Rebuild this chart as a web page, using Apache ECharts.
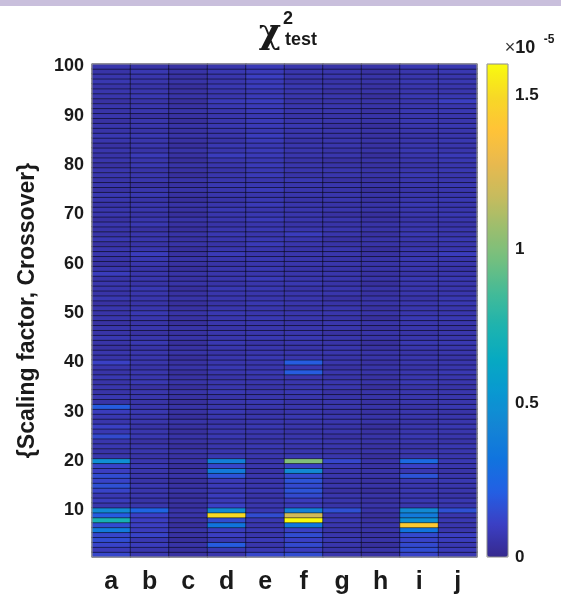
<!DOCTYPE html>
<html>
<head>
<meta charset="utf-8">
<title>chi2 test heatmap</title>
<script src="https://cdn.jsdelivr.net/npm/echarts@6/dist/echarts.min.js"></script>
<style>
  html, body { margin: 0; padding: 0; background: #fff; }
  #chart { width: 561px; height: 595px; }
</style>
</head>
<body>
<div id="chart"></div>
<script>
// columns (x categories)
const columns = ["a", "b", "c", "d", "e", "f", "g", "h", "i", "j"];
// y tick labels shown on the left
const yTickLabels = ["10", "20", "30", "40", "50", "60", "70", "80", "90", "100"];
// colorbar ticks (x 10^-5)
const colorTicks = [0, 0.5, 1, 1.5];
const colorMax = 1.6;

// values per column, row 1 .. row 100, in units of 10^-5
const colA = [
  .13, .08, .12, .15, .13, .36, .15, .72, .20, .45,
  .06, .09, .07, .12, .16, .12, .15, .10, .12, .48,
  .06, .05, .07, .06, .14, .07, .11, .06, .07, .09,
  .20, .05, .07, .05, .06, .05, .07, .05, .06, .11,
  .05, .06, .04, .05, .07, .05, .06, .04, .06, .05,
  .06, .04, .07, .05, .06, .06, .05, .09, .06, .04,
  .05, .06, .06, .04, .07, .05, .05, .06, .04, .06,
  .06, .05, .06, .07, .04, .06, .05, .06, .06, .04,
  .06, .05, .06, .04, .06, .07, .05, .06, .04, .06,
  .05, .06, .04, .06, .06, .05, .07, .06, .05, .06
];
const colB = [
  .07, .06, .09, .07, .12, .09, .10, .10, .11, .24,
  .06, .05, .06, .06, .07, .05, .06, .06, .07, .06,
  .05, .06, .06, .04, .07, .06, .05, .06, .06, .07,
  .06, .05, .06, .06, .04, .07, .06, .06, .05, .06,
  .06, .06, .05, .07, .06, .04, .06, .05, .06, .07,
  .06, .05, .06, .06, .07, .05, .06, .06, .05, .06,
  .07, .09, .06, .05, .06, .06, .04, .07, .06, .05,
  .06, .06, .05, .07, .06, .04, .06, .06, .05, .07,
  .06, .08, .05, .06, .06, .07, .05, .06, .06, .04,
  .06, .06, .05, .07, .06, .05, .06, .06, .07, .05
];
const colC = [
  .04, .03, .05, .03, .04, .05, .03, .04, .05, .05,
  .03, .04, .03, .05, .04, .03, .05, .04, .03, .05,
  .04, .05, .03, .04, .05, .03, .04, .05, .03, .04,
  .05, .03, .04, .05, .03, .05, .04, .03, .05, .04,
  .03, .05, .04, .03, .05, .04, .05, .03, .04, .05,
  .04, .03, .05, .04, .03, .05, .04, .05, .03, .04,
  .05, .04, .03, .05, .04, .05, .03, .04, .05, .03,
  .04, .05, .03, .04, .05, .04, .05, .03, .04, .05,
  .03, .04, .05, .03, .04, .05, .04, .05, .03, .04,
  .05, .04, .03, .05, .04, .03, .05, .04, .05, .04
];
const colD = [
  .06, .07, .20, .07, .10, .09, .32, .15, 1.50, .45,
  .11, .08, .09, .07, .08, .08, .17, .36, .13, .38,
  .07, .06, .06, .05, .07, .06, .06, .05, .06, .07,
  .06, .06, .05, .07, .06, .06, .05, .06, .07, .06,
  .06, .05, .06, .07, .06, .06, .05, .06, .06, .07,
  .06, .05, .06, .06, .07, .05, .06, .06, .06, .05,
  .06, .08, .06, .05, .06, .07, .06, .05, .06, .06,
  .07, .06, .05, .06, .06, .07, .06, .06, .05, .06,
  .06, .09, .06, .07, .05, .06, .06, .07, .06, .06,
  .06, .07, .08, .06, .06, .07, .06, .06, .07, .06
];
const colE = [
  .13, .07, .06, .08, .06, .07, .06, .07, .15, .07,
  .06, .06, .05, .07, .06, .06, .06, .05, .06, .06,
  .06, .06, .07, .05, .06, .06, .07, .06, .06, .05,
  .06, .07, .06, .06, .05, .06, .06, .07, .06, .06,
  .07, .06, .06, .05, .07, .06, .06, .06, .07, .06,
  .06, .07, .06, .06, .07, .06, .08, .06, .07, .06,
  .07, .06, .06, .08, .07, .06, .07, .06, .08, .07,
  .06, .08, .07, .06, .08, .07, .06, .08, .07, .08,
  .07, .08, .08, .07, .08, .09, .07, .08, .08, .07,
  .08, .08, .09, .08, .07, .09, .08, .10, .08, .08
];
const colF = [
  .15, .09, .14, .11, .15, .11, .34, 1.60, 1.20, .40,
  .08, .09, .14, .17, .14, .17, .14, .45, .11, 1.00,
  .07, .06, .06, .07, .06, .05, .06, .06, .07, .06,
  .06, .05, .06, .07, .06, .06, .06, .20, .07, .20,
  .06, .06, .05, .06, .07, .06, .06, .05, .06, .06,
  .05, .06, .06, .06, .05, .07, .06, .06, .05, .06,
  .06, .06, .05, .06, .06, .09, .06, .05, .06, .06,
  .06, .06, .05, .06, .06, .06, .07, .05, .06, .06,
  .05, .06, .06, .06, .05, .06, .06, .07, .06, .05,
  .06, .06, .05, .06, .06, .07, .05, .06, .06, .06
];
const colG = [
  .06, .05, .06, .07, .06, .05, .06, .07, .06, .16,
  .05, .06, .06, .04, .06, .05, .06, .06, .07, .13,
  .06, .05, .06, .06, .04, .06, .05, .06, .06, .05,
  .06, .06, .05, .04, .06, .06, .05, .06, .04, .06,
  .05, .06, .06, .05, .06, .04, .06, .06, .05, .06,
  .06, .05, .04, .06, .06, .05, .06, .06, .05, .06,
  .05, .06, .06, .05, .04, .06, .06, .05, .06, .04,
  .06, .05, .06, .06, .05, .06, .04, .06, .06, .05,
  .04, .06, .05, .06, .06, .05, .06, .04, .06, .05,
  .06, .06, .05, .06, .04, .06, .05, .06, .06, .05
];
const colH = [
  .04, .05, .03, .05, .04, .05, .05, .04, .03, .05,
  .05, .04, .05, .03, .05, .04, .05, .05, .04, .05,
  .03, .05, .04, .05, .05, .04, .03, .05, .05, .04,
  .05, .04, .05, .05, .03, .05, .04, .05, .05, .04,
  .05, .05, .04, .03, .05, .05, .04, .05, .03, .05,
  .04, .05, .05, .04, .05, .03, .05, .04, .05, .05,
  .05, .04, .03, .05, .05, .04, .05, .05, .04, .03,
  .05, .05, .04, .05, .03, .05, .04, .05, .05, .04,
  .05, .03, .05, .04, .05, .04, .05, .03, .05, .05,
  .04, .05, .05, .03, .05, .04, .05, .05, .04, .05
];
const colI = [
  .12, .15, .14, .12, .14, .32, 1.42, .48, .36, .45,
  .06, .07, .06, .07, .06, .07, .17, .07, .11, .26,
  .06, .06, .05, .06, .07, .06, .06, .05, .06, .06,
  .05, .06, .06, .06, .05, .07, .06, .06, .05, .06,
  .06, .05, .06, .07, .06, .05, .06, .06, .07, .06,
  .06, .06, .05, .06, .06, .06, .07, .05, .06, .06,
  .07, .06, .06, .05, .06, .07, .06, .06, .05, .06,
  .06, .07, .06, .06, .05, .06, .06, .07, .06, .05,
  .06, .06, .07, .06, .06, .05, .06, .06, .07, .06,
  .07, .06, .06, .07, .06, .06, .07, .06, .06, .07
];
const colJ = [
  .07, .08, .07, .09, .10, .06, .06, .07, .06, .16,
  .06, .07, .05, .06, .06, .07, .06, .05, .06, .07,
  .06, .06, .07, .05, .06, .06, .07, .06, .06, .05,
  .07, .06, .06, .06, .05, .06, .06, .07, .06, .06,
  .05, .06, .06, .07, .06, .06, .05, .06, .07, .06,
  .06, .07, .07, .06, .06, .06, .07, .06, .05, .06,
  .06, .09, .06, .06, .07, .06, .06, .05, .06, .07,
  .06, .06, .07, .06, .06, .07, .06, .06, .07, .06,
  .07, .08, .06, .06, .07, .06, .06, .07, .06, .06,
  .07, .06, .10, .07, .06, .06, .07, .06, .07, .07
];
const columnValues = [colA, colB, colC, colD, colE, colF, colG, colH, colI, colJ];

// row categories 1..100
const rows = [];
for (let r = 1; r <= 100; r++) rows.push(String(r));

// heatmap cells [column, row, value]
const cells = [];
columnValues.forEach((vals, ci) => {
  vals.forEach((v, ri) => {
    cells.push([ci, ri, v]);
  });
});

// parula-like colormap, evenly sampled (low end nudged toward the picture's violet)
const parula = [
  "#362a8e", "#3b3fc4", "#2360e4", "#1074de", "#1485d4", "#0998d1",
  "#07a9c2", "#1db3af", "#42ba98", "#71bf80", "#9bbe6e", "#c8bb5d",
  "#e9b94e", "#ffc337", "#f7d826", "#f9fb0e"
];

const chart = echarts.init(document.getElementById("chart"));

const options = {
  backgroundColor: "#fff",
  animation: false,
  textStyle: { fontFamily: "Liberation Sans, Arial, sans-serif" },
  grid: [
    // main heatmap
    {
      left: 92, top: 64, width: 385, height: 493, outerBoundsMode: "none", containLabel: false,
      show: true, borderColor: "#a0a0a0", borderWidth: 1, z: 10, backgroundColor: "transparent",
    },
    // colorbar axis
    {
      left: 487, top: 64, width: 21, height: 493, outerBoundsMode: "none", containLabel: false,
      show: true, borderColor: "#8a8a8a", borderWidth: 1, z: 10, backgroundColor: "transparent",
    },
  ],
  xAxis: [
    {
      type: "category",
      gridIndex: 0,
      data: columns,
      axisLine: { show: false },
      axisTick: { show: false },
      splitLine: { show: false },
      axisLabel: { color: "#1a1a1a", fontSize: 25, fontWeight: "bold", margin: 13 },
    },
    { type: "value", gridIndex: 1, show: false, min: 0, max: 1 },
  ],
  yAxis: [
    {
      type: "category",
      gridIndex: 0,
      data: rows,
      name: "{Scaling factor, Crossover}",
      nameLocation: "middle",
      nameGap: 53,
      nameRotate: 90,
      nameTextStyle: { color: "#1a1a1a", fontSize: 23, fontWeight: "bold" },
      axisLine: { show: false },
      axisTick: { show: false },
      splitLine: { show: false },
      axisLabel: {
        interval: (idx, val) => yTickLabels.includes(val),
        color: "#1a1a1a",
        fontSize: 18,
        fontWeight: "bold",
        margin: 8,
      },
    },
    {
      type: "value",
      gridIndex: 1,
      position: "right",
      min: 0,
      max: colorMax,
      interval: 0.5,
      axisLine: { show: false },
      axisTick: { show: false },
      splitLine: { show: false },
      axisLabel: {
        showMaxLabel: false,
        color: "#1a1a1a",
        fontSize: 17,
        fontWeight: "bold",
        margin: 7,
        formatter: (v) => (colorTicks.includes(v) ? String(v) : ""),
      },
    },
  ],
  visualMap: {
    type: "continuous",
    min: 0,
    max: colorMax,
    seriesIndex: 0,
    left: 487,
    top: 64,
    padding: 0,
    itemWidth: 21,
    itemHeight: 493,
    calculable: false,
    hoverLink: false,
    text: null,
    showLabel: false,
    inRange: { color: parula },
  },
  graphic: [
    { type: "rect", left: 0, top: 0, shape: { width: 561, height: 6 }, style: { fill: "#c9bfdc" } },
    {
      type: "text", x: 270, y: 34,
      style: { text: "χ", font: "bold 34px 'DejaVu Serif', serif", fill: "#1a1a1a", textAlign: "center", textVerticalAlign: "middle" },
    },
    {
      type: "text", x: 288, y: 19,
      style: { text: "2", font: "bold 18px 'Liberation Sans', sans-serif", fill: "#1a1a1a", textAlign: "center", textVerticalAlign: "middle" },
    },
    {
      type: "text", x: 301, y: 40,
      style: { text: "test", font: "bold 18px 'Liberation Sans', sans-serif", fill: "#1a1a1a", textAlign: "center", textVerticalAlign: "middle" },
    },
    {
      type: "text", x: 520, y: 48,
      style: {
        text: "{x|×}{t|10}",
        rich: {
          x: { font: "18px 'Liberation Sans', sans-serif", fill: "#333" },
          t: { font: "bold 18px 'Liberation Sans', sans-serif", fill: "#1a1a1a" },
        },
        textAlign: "center", textVerticalAlign: "middle",
      },
    },
    {
      type: "text", x: 549, y: 40,
      style: { text: "-5", font: "bold 12px 'Liberation Sans', sans-serif", fill: "#1a1a1a", textAlign: "center", textVerticalAlign: "middle" },
    },
  ],
  series: [
    {
      type: "heatmap",
      xAxisIndex: 0,
      yAxisIndex: 0,
      data: cells,
      progressive: 0,
      itemStyle: { borderColor: "rgba(0,0,0,0.85)", borderWidth: 0.6 },
      emphasis: { disabled: true },
    },
    {
      type: "scatter",
      xAxisIndex: 1,
      yAxisIndex: 1,
      data: [],
      silent: true,
    },
  ],
};

chart.setOption(options);
</script>
</body>
</html>
